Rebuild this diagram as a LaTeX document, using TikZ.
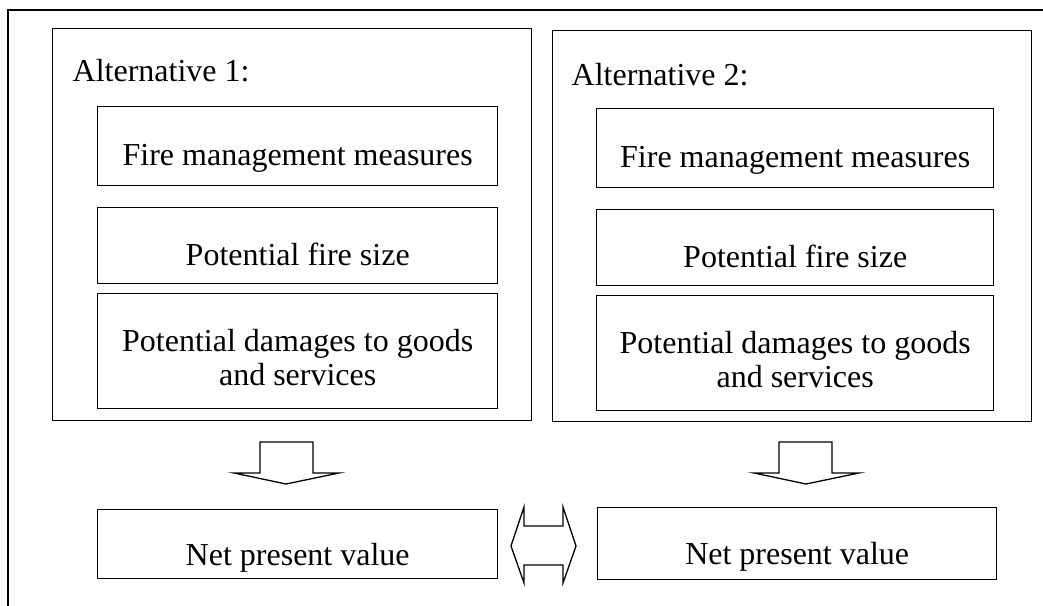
\documentclass[tikz,border=0pt]{standalone}
\usepackage{fontspec}
\setmainfont{Liberation Serif}
\begin{document}
\begin{tikzpicture}[x=1pt,y=-1pt,line width=1.4pt,
  box/.style={draw,rectangle,inner sep=0pt,anchor=north west},
  lbl/.style={font=\fontsize{32}{34}\selectfont,inner sep=0pt,align=center,anchor=base},
  blockarrow/.style={draw,line width=1.3pt,fill=white,line join=miter}]
\useasboundingbox (0,0) rectangle (1043,605);
% outer frame
\draw[line width=1.3pt] (8,610) -- (8,10) -- (1050,10);
% alternative frames
\node[box,minimum width=479pt,minimum height=392pt] (alt1) at (52,28) {};
\node[box,minimum width=479pt,minimum height=391pt] (alt2) at (552,30) {};
\node[lbl,anchor=base west] (alt1t) at (72,81) {Alternative 1:};
\node[lbl,anchor=base west] (alt2t) at (571,85) {Alternative 2:};
% alternative 1 contents
\node[box,minimum width=400pt,minimum height=79pt] (fm1) at (97,106) {};
\node[box,minimum width=400pt,minimum height=76pt] (fs1) at (97,207) {};
\node[box,minimum width=400pt,minimum height=115pt] (dm1) at (97,293) {};
\node[lbl] (fm1t) at ([yshift=-59pt]fm1.north) {Fire management measures};
\node[lbl] (fs1t) at ([yshift=-58pt]fs1.north) {Potential fire size};
\node[lbl] (dm1t) at ([yshift=-92pt]dm1.north) {Potential damages to goods\\and services};
% alternative 2 contents
\node[box,minimum width=397pt,minimum height=79pt] (fm2) at (596,108) {};
\node[box,minimum width=397pt,minimum height=76pt] (fs2) at (596,209) {};
\node[box,minimum width=397pt,minimum height=115pt] (dm2) at (596,295) {};
\node[lbl] (fm2t) at ([yshift=-59pt]fm2.north) {Fire management measures};
\node[lbl] (fs2t) at ([yshift=-58pt]fs2.north) {Potential fire size};
\node[lbl] (dm2t) at ([yshift=-92pt]dm2.north) {Potential damages to goods\\and services};
% results
\node[box,minimum width=400pt,minimum height=69pt] (npv1) at (97,509) {};
\node[box,minimum width=399pt,minimum height=72pt] (npv2) at (597,507) {};
\node[lbl] (npv1t) at ([yshift=-56pt]npv1.north) {Net present value};
\node[lbl] (npv2t) at ([yshift=-57pt]npv2.north) {Net present value};
% block arrows
\draw[blockarrow] (260,442) -- (313,442) -- (313,473) -- (339,473) -- (286,484)
  -- (234,473) -- (260,473) -- cycle;
\draw[blockarrow] (779,442) -- (832,442) -- (832,473) -- (859,473) -- (806,484)
  -- (754,473) -- (779,473) -- cycle;
\draw[blockarrow] (511,546) -- (524,507) -- (524,526) -- (563,526) -- (563,507)
  -- (576,546) -- (563,583) -- (563,565) -- (524,565) -- (524,583) -- cycle;
\end{tikzpicture}
\end{document}
